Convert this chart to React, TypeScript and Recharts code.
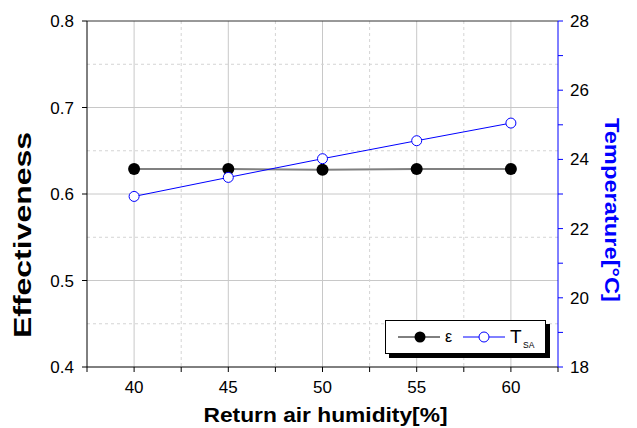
import React from 'react';
import { ComposedChart, Line, XAxis, YAxis, CartesianGrid, ReferenceLine } from 'recharts';

const humidity = [40, 45, 50, 55, 60];
const effectiveness = [0.629, 0.629, 0.628, 0.629, 0.629];
const supplyTemp = [22.93, 23.48, 24.02, 24.54, 25.05];

const xTicks = [37.5, 40, 42.5, 45, 47.5, 50, 52.5, 55, 57.5, 60, 62.5];
const xMajor = [40, 45, 50, 55, 60];
const xMinor = [42.5, 47.5, 52.5, 57.5];
const leftTicks = [0.4, 0.5, 0.6, 0.7, 0.8];
const leftMinor = [0.45, 0.55, 0.65, 0.75];
const rightTicks = [18, 19, 20, 21, 22, 23, 24, 25, 26, 27, 28];
const rightLabels = [18, 20, 22, 24, 26, 28];

const data = humidity.map((h, i) => ({ h, eps: effectiveness[i], t: supplyTemp[i] }));

const FONT = '"Liberation Sans", Arial, sans-serif';

const LegendBox = () => (
  <div
    style={{
      position: 'absolute',
      left: 385,
      top: 320,
      width: 159,
      height: 32,
      border: '1px solid #000',
      background: '#fff',
      boxShadow: '4px 4px 0 #000',
    }}
  >
    <svg width={159} height={32} style={{ display: 'block' }}>
      <line x1={12} y1={16} x2={54} y2={16} stroke="#000" strokeWidth={1} />
      <circle cx={34} cy={16} r={5.5} fill="#000" />
      <text x={59} y={21} fontSize={16} fontFamily={FONT} fill="#000">ε</text>
      <line x1={77} y1={16} x2={119} y2={16} stroke="#0000ff" strokeWidth={1} />
      <circle cx={98} cy={16} r={5} fill="#fff" stroke="#0000ff" strokeWidth={1} />
      <text x={124} y={22} fontSize={19} fontFamily={FONT} fill="#000">T</text>
      <text x={137} y={27} fontSize={8.5} fontFamily={FONT} fill="#000">SA</text>
    </svg>
  </div>
);

export default function App() {
  return (
    <div style={{ position: 'absolute', left: 0, top: 0, width: 637, height: 428, background: '#fff' }}>
      <ComposedChart
        width={637}
        height={428}
        data={data}
        margin={{ top: 21, right: 0, bottom: 0, left: 0 }}
        style={{ fontFamily: FONT }}
      >
        <CartesianGrid
          yAxisId="left"
          stroke="#c8c8c8"
          strokeWidth={1}
          horizontalValues={leftTicks.slice(1, 4)}
          verticalValues={xMajor}
        />
        <CartesianGrid
          yAxisId="left"
          stroke="#d4d4d4"
          strokeWidth={1}
          strokeDasharray="3 3"
          horizontalValues={leftMinor}
          verticalValues={xMinor}
        />
        <XAxis
          dataKey="h"
          type="number"
          domain={[37.5, 62.5]}
          ticks={xTicks}
          interval={0}
          tickFormatter={(v: number) => (xMajor.includes(v) ? String(v) : '')}
          height={61}
          stroke="#000"
          tickSize={5}
          tickMargin={9}
          tick={{ fill: '#000', fontSize: 17, fontFamily: FONT }}
          label={{
            content: ({ viewBox }: any) => (
              <text
                x={viewBox.x + viewBox.width / 2 + 3}
                y={viewBox.y + 55}
                textAnchor="middle"
                fontSize={21}
                fontWeight="bold"
                fontFamily={FONT}
                fill="#000"
                textLength={244}
                lengthAdjust="spacingAndGlyphs"
              >
                Return air humidity[%]
              </text>
            ),
          }}
        />
        <YAxis
          yAxisId="left"
          domain={[0.4, 0.8]}
          ticks={leftTicks}
          interval={0}
          tickFormatter={(v: number) => v.toFixed(1)}
          width={87}
          stroke="#000"
          tickSize={5}
          tickMargin={8}
          tick={{ fill: '#000', fontSize: 17, fontFamily: FONT }}
          label={{
            content: () => {
              const cx = 23;
              const cy = 235;
              return (
                <text
                  x={cx}
                  y={cy}
                  transform={`rotate(-90 ${cx} ${cy})`}
                  textAnchor="middle"
                  dominantBaseline="central"
                  fontSize={23}
                  fontWeight="bold"
                  fontFamily={FONT}
                  fill="#000"
                  textLength={206}
                  lengthAdjust="spacingAndGlyphs"
                >
                  Effectiveness
                </text>
              );
            },
          }}
        />
        <YAxis
          yAxisId="right"
          orientation="right"
          domain={[18, 28]}
          ticks={rightTicks}
          interval={0}
          tickFormatter={(v: number) => (rightLabels.includes(v) ? String(v) : '')}
          width={79}
          stroke="#0000ff"
          tickSize={5}
          tickMargin={7}
          tick={{ fill: '#000', fontSize: 17, fontFamily: FONT }}
          label={{
            content: () => {
              const cx = 612;
              const cy = 210;
              return (
                <text
                  x={cx}
                  y={cy}
                  transform={`rotate(90 ${cx} ${cy})`}
                  textAnchor="middle"
                  dominantBaseline="central"
                  fontSize={21}
                  fontWeight="bold"
                  fontFamily={FONT}
                  fill="#0000ff"
                  textLength={184}
                  lengthAdjust="spacingAndGlyphs"
                >
                  Temperature[°C]
                </text>
              );
            },
          }}
        />
        <ReferenceLine yAxisId="left" y={0.8} stroke="#333" strokeWidth={1} />
        <Line
          yAxisId="left"
          dataKey="eps"
          stroke="#808080"
          strokeWidth={2}
          dot={{ r: 6, fill: '#000', stroke: '#000', strokeWidth: 0 }}
          activeDot={false}
          isAnimationActive={false}
        />
        <Line
          yAxisId="right"
          dataKey="t"
          stroke="#0000ff"
          strokeWidth={1}
          dot={{ r: 5, fill: '#fff', stroke: '#0000ff', strokeWidth: 1 }}
          activeDot={false}
          isAnimationActive={false}
        />
      </ComposedChart>
      <LegendBox />
    </div>
  );
}
